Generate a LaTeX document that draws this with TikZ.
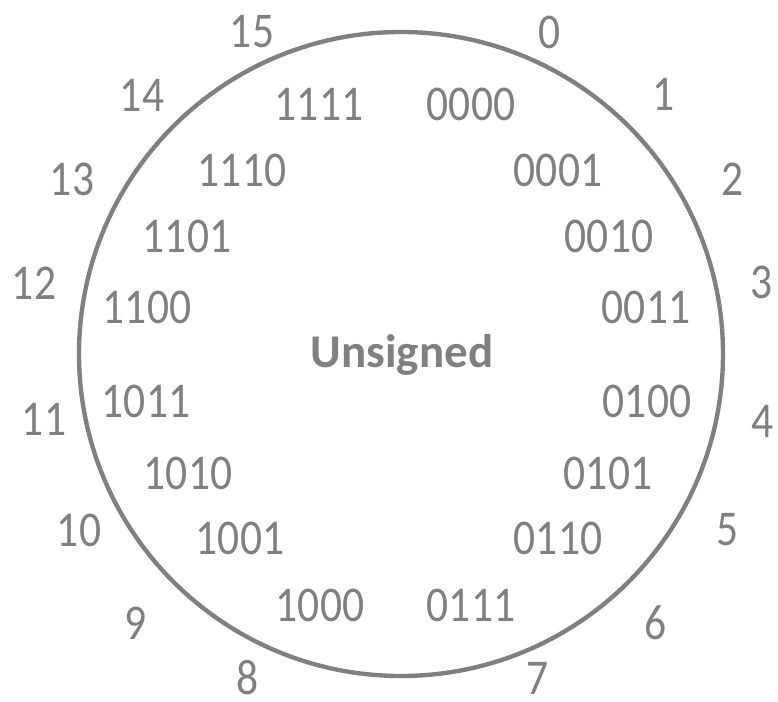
\documentclass[tikz,border=0pt]{standalone}
\usepackage{fontspec}
\setmainfont{Carlito}
\newfontfamily\digitfont[FakeStretch=0.87]{Carlito}
\usepackage{tikz}

\definecolor{ringgray}{RGB}{128,128,128}

\begin{document}
\begin{tikzpicture}[
				num style/.style={
					inner sep=0pt,
					text=ringgray,
					font=\digitfont\fontsize{35.6}{40}\selectfont
				},
				bits style/.style={
					num style
				},
				title style/.style={
					inner sep=0pt,
					anchor=base,
					text=ringgray,
					font=\bfseries\fontsize{33.4}{40}\selectfont
				}
				]
				
				\useasboundingbox (-10.025,-8.7) rectangle (9.425,8.85);
				
				\draw[ringgray, line width=3.1pt] (0,0) circle (8.05);
				
				% outer numbers
				\foreach \lbl/\x/\y in {0/3.725/8.05, 1/6.575/6.5, 2/8.3/4.375, 3/9.025/1.8,
					4/9.05/-1.675, 5/8.175/-4.4, 6/6.375/-6.725, 7/3.425/-8.1,
					8/-3.825/-8.1, 9/-6.625/-6.725, 10/-8.05/-4.4, 11/-8.925/-1.625,
					12/-9.175/1.775, 13/-8.225/4.375, 14/-6.475/6.475, 15/-3.725/8.05}
				\node[num style] (num\lbl) at (\x,\y) {\lbl};
				
				% bit patterns
				\foreach \lbl/\x/\y in {0000/1.75/6.25, 0001/3.925/4.6, 0010/5.2/2.95, 0011/6.125/1.175,
					0100/6.15/-1.175, 0101/5.175/-2.975, 0110/3.925/-4.6, 0111/1.75/-6.275,
					1000/-2.025/-6.275, 1001/-4.025/-4.6, 1010/-5.325/-2.975, 1011/-6.375/-1.175,
					1100/-6.35/1.175, 1101/-5.35/2.95, 1110/-3.975/4.6, 1111/-2.05/6.25}
				\node[bits style] (bits\lbl) at (\x,\y) {\lbl};
				
				\node[title style] (title) at (0.025,-0.35) {Unsigned};
				
			\end{tikzpicture}
\end{document}
